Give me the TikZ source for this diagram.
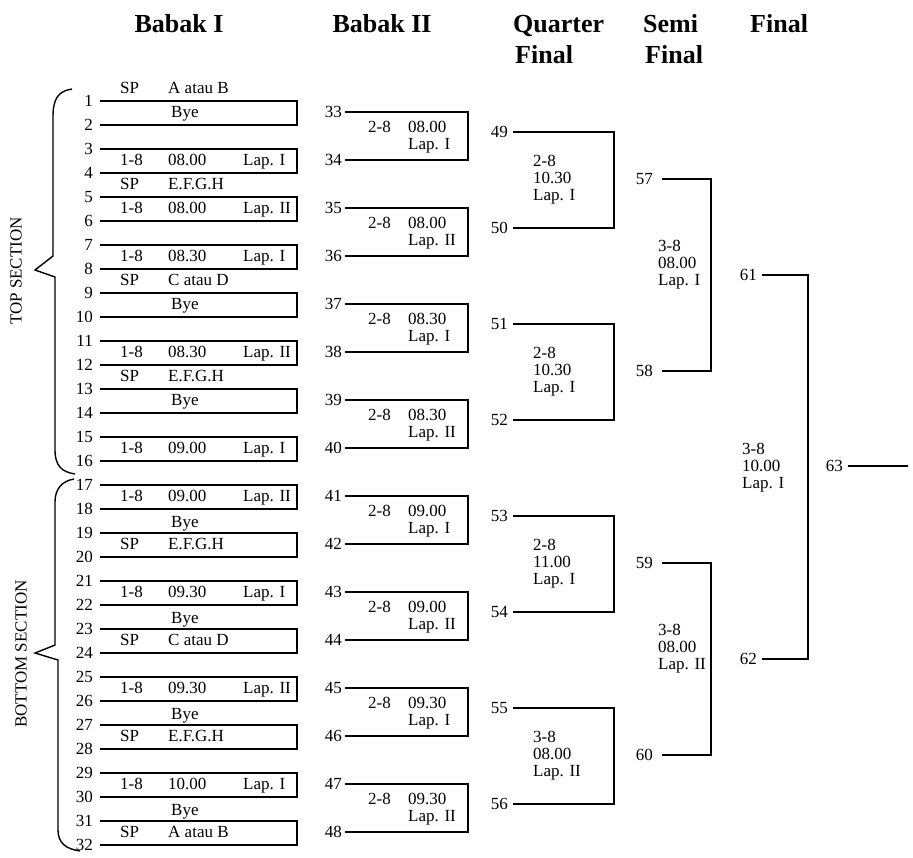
\documentclass[tikz,border=0pt]{standalone}
\usepackage{fontspec}
\setmainfont{Liberation Serif}
\tikzset{
  num/.style={inner ysep=1pt, font=\fontsize{17}{17}\selectfont},
  lbl/.style={anchor=base west, inner sep=0pt, font=\fontsize{17}{17}\selectfont},
  blk/.style={anchor=west, inner sep=0pt, align=left, font=\fontsize{17}{17}\selectfont},
  head/.style={anchor=base west, inner sep=0pt, font=\fontsize{26}{30}\selectfont\bfseries},
  side/.style={rotate=90, inner sep=0pt, font=\fontsize{17}{17}\selectfont},
  wire/.style={line width=1.4pt},
}
\begin{document}
\begin{tikzpicture}[x=1pt,y=-1pt]
  \useasboundingbox (0,0) rectangle (913,857);
  % column heads
  \node[head,anchor=base] (hA) at (179,32) {Babak I};
  \node[head,anchor=base] (hB) at (382,32) {Babak II};
  \node[head] (hC) at (513,32) {Quarter};
  \node[head] (hC2) at (515,63) {Final};
  \node[head] (hD) at (643,32) {Semi};
  \node[head] (hD2) at (645,63) {Final};
  \node[head] (hE) at (750,32) {Final};

  % sections
  \draw[wire] (72,89) .. controls (58,91) and (53,99) .. (53,117) -- (53,256)
    -- (35,270) -- (55,277) -- (55,450) .. controls (55,466) and (62,472) .. (75,474);
  \draw[wire] (74,479) .. controls (62,481) and (55,489) .. (55,502) -- (55,645)
    -- (35,653) -- (58,660) -- (58,830) .. controls (58,843) and (66,849) .. (80,851);
  \node[side] (top) at (16,271) {TOP SECTION};
  \node[side] (bot) at (21,654) {BOTTOM SECTION};

  % Babak I
  \foreach \k in {1,...,32} {
    \pgfmathsetmacro\yy{101+(\k-1)*24}
    \node[num,anchor=east,inner xsep=7pt] (a\k) at (100,\yy) {\k};
  }
  \foreach \i in {1,...,16} {
    \pgfmathtruncatemacro\t{2*\i-1}
    \pgfmathtruncatemacro\b{2*\i}
    \coordinate (ac\i) at (297,{101+(\b-1)*24});
    \draw[wire] (a\t.east) -| (ac\i) -- (a\b.east);
  }
  \foreach \i/\tm/\lp in {2/08.00/I,3/08.00/II,4/08.30/I,6/08.30/II,8/09.00/I,
      9/09.00/II,11/09.30/I,13/09.30/II,15/10.00/I} {
    \pgfmathsetmacro\yy{101+(2*\i-1.5)*24+4.5}
    \node[lbl] (g\i) at (120,\yy) {1-8};
    \node[lbl] (tm\i) at (168,\yy) {\tm};
    \node[lbl] (lp\i) at (243,\yy) {Lap. \lp};
  }
  \foreach \i in {1,5,7} {
    \pgfmathsetmacro\yy{101+(2*\i-1.5)*24+4.5}
    \node[lbl] (bye\i) at (171,\yy) {Bye};
  }
  \foreach \i in {10,12,14,16} {
    \pgfmathsetmacro\yy{101+(2*\i-2)*24-6}
    \node[lbl] (bye\i) at (171,\yy) {Bye};
  }
  \foreach \i/\who in {1/A atau B,3/E.F.G.H,5/C atau D,7/E.F.G.H} {
    \pgfmathsetmacro\yy{101+(2*\i-2)*24-8}
    \node[lbl] (sp\i) at (120,\yy) {SP};
    \node[lbl] (who\i) at (168,\yy) {\who};
  }
  \foreach \i/\who in {10/E.F.G.H,12/C atau D,14/E.F.G.H,16/A atau B} {
    \pgfmathsetmacro\yy{101+(2*\i-1.5)*24+4.5}
    \node[lbl] (sp\i) at (120,\yy) {SP};
    \node[lbl] (who\i) at (168,\yy) {\who};
  }

  % Babak II
  \foreach \m in {1,...,16} {
    \pgfmathsetmacro\yy{101+(2*\m-1.5)*24-1}
    \pgfmathtruncatemacro\nn{32+\m}
    \node[num,anchor=east,inner xsep=3pt] (b\m) at (345,\yy) {\nn};
  }
  \foreach \i/\tm/\lp in {1/08.00/I,2/08.00/II,3/08.30/I,4/08.30/II,
      5/09.00/I,6/09.00/II,7/09.30/I,8/09.30/II} {
    \pgfmathtruncatemacro\t{2*\i-1}
    \pgfmathtruncatemacro\b{2*\i}
    \pgfmathsetmacro\yy{101+(4*\i-3.5)*24-1}
    \coordinate (bc\i) at (468,{101+(4*\i-1.5)*24-1});
    \draw[wire] (b\t.east) -| (bc\i) -- (b\b.east);
    \node[lbl] (bg\i) at (368,\yy+20) {2-8};
    \node[lbl] (btm\i) at (408,\yy+20) {\tm};
    \node[lbl] (blp\i) at (408,\yy+37) {Lap. \lp};
  }

  % Quarter Final
  \foreach \q in {1,...,8} {
    \pgfmathsetmacro\yy{101+(4*\q-2.5)*24-5}
    \pgfmathtruncatemacro\nn{48+\q}
    \node[num,anchor=east,inner xsep=5pt] (c\q) at (513,\yy) {\nn};
  }
  \foreach \i/\gr/\tm/\lp in {1/2-8/10.30/I,2/2-8/10.30/I,3/2-8/11.00/I,4/3-8/08.00/II} {
    \pgfmathtruncatemacro\t{2*\i-1}
    \pgfmathtruncatemacro\b{2*\i}
    \coordinate (cc\i) at (614,{101+(8*\i-2.5)*24-5});
    \draw[wire] (c\t.east) -| (cc\i) -- (c\b.east);
    \node[blk] (ct\i) at (533,{101+(8*\i-4.5)*24-5}) {\gr\\\tm\\Lap. \lp};
  }

  % Semi Final
  \foreach \s in {1,...,4} {
    \pgfmathsetmacro\yy{101+(8*\s-4.5)*24-6}
    \pgfmathtruncatemacro\nn{56+\s}
    \node[num,anchor=east,inner xsep=9pt] (d\s) at (662,\yy) {\nn};
  }
  \foreach \i/\lp in {1/I,2/II} {
    \pgfmathtruncatemacro\t{2*\i-1}
    \pgfmathtruncatemacro\b{2*\i}
    \coordinate (dc\i) at (711,{101+(16*\i-4.5)*24-6});
    \draw[wire] (d\t.east) -| (dc\i) -- (d\b.east);
    \node[blk] (dt\i) at (658,{101+(16*\i-8.5)*24-16}) {3-8\\08.00\\Lap. \lp};
  }

  % Final
  \node[num,anchor=east,inner xsep=5pt] (e1) at (762,{101+7.5*24-6}) {61};
  \node[num,anchor=east,inner xsep=5pt] (e2) at (762,{101+23.5*24-6}) {62};
  \coordinate (ec) at (808,{101+23.5*24-6});
  \draw[wire] (e1.east) -| (ec) -- (e2.east);
  \node[blk] (et) at (742,468) {3-8\\10.00\\Lap. I};
  \node[num,anchor=east,inner xsep=5pt] (w) at (848,466) {63};
  \coordinate (wc) at (908,466);
  \draw[wire] (w.east) -- (wc);
\end{tikzpicture}
\end{document}
